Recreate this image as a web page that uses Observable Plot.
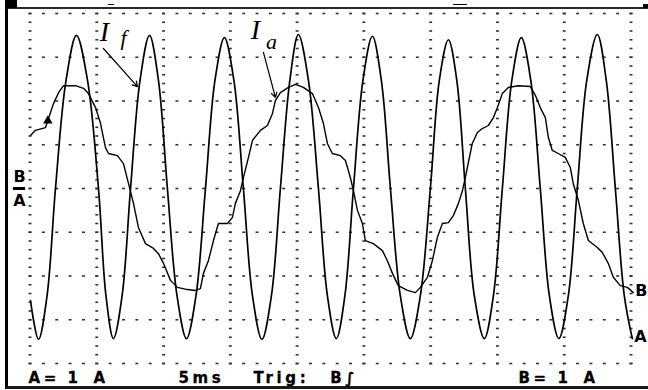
<!DOCTYPE html>
<html>
<head>
<meta charset="utf-8">
<script src="https://cdn.jsdelivr.net/npm/d3@7"></script>
<script src="https://cdn.jsdelivr.net/npm/@observablehq/plot@0.6"></script>
<style>
html,body{margin:0;padding:0;background:#fff;}
#screen{position:relative;width:648px;height:390px;overflow:hidden;background:#fff;}
#bezel{position:absolute;left:5px;top:7px;width:643px;height:382px;box-sizing:border-box;border-left:3px solid #000;border-top:2px solid #2a2a2a;border-bottom:3px solid #1a1a1a;}
.mk{position:absolute;background:#000;}
#chart{position:absolute;left:0;top:0;}
#chart svg{overflow:visible;}
#chart g[font-size="15"] text{letter-spacing:3.6px;}
</style>
</head>
<body>
<div id="screen">
  <div id="bezel"></div>
  <div class="mk" style="left:5px;top:0;width:12px;height:8px"></div>
  <div class="mk" style="left:643px;top:4px;width:5px;height:4px"></div>
  <div class="mk" style="left:108px;top:4px;width:6px;height:1px"></div>
  <div class="mk" style="left:453px;top:4px;width:14px;height:1px"></div>
  <div id="chart"></div>
</div>
<script>
// Scope grid: 5 ms per division (time), 1 A per division (current)
const timeDivisions = [0, 5, 10, 15, 20, 25, 30, 35, 40, 45];
const currentDivisions = [-4, -3, -2, -1, 0, 1, 2, 3, 4];

// Channel A : I_f  (fast wave)  [time ms, current A]
const fastTrace = [
  [0.00,-2.56],[0.60,-3.45],[1.24,-2.45],[1.87,0],[2.66,2.47],[3.44,3.50],[4.27,2.47],[5.09,0],[5.65,-2.45],
  [6.21,-3.43],[6.86,-2.45],[7.49,0],[8.20,2.47],[8.91,3.50],[9.58,2.47],[10.25,0],[10.97,-2.45],
  [11.68,-3.43],[12.39,-2.45],[13.10,0],[13.81,2.47],[14.52,3.45],[15.23,2.47],[15.94,0],[16.62,-2.45],
  [17.33,-3.45],[18.04,-2.45],[18.71,0],[19.42,2.47],[20.06,3.52],[20.81,2.47],[21.56,0],[22.23,-2.45],
  [22.90,-3.43],[23.54,-2.45],[24.18,0],[24.89,2.47],[25.60,3.48],[26.27,2.47],[26.95,0],[27.69,-2.45],
  [28.44,-3.43],[29.19,-2.45],[29.94,0],[30.61,2.47],[31.29,3.40],[31.92,2.47],[32.56,0],[33.23,-2.45],
  [33.98,-3.43],[34.66,-2.45],[35.33,0],[36.04,2.47],[36.75,3.45],[37.46,2.47],[38.17,0],[38.85,-2.45],
  [39.56,-3.43],[40.27,-2.45],[40.94,0],[41.65,2.47],[42.44,3.52],[43.11,2.47],[43.79,0],[44.46,-2.45],
  [45.06,-3.43]
];

// Channel B : I_a  (slow wave)  [time ms, current A]
const slowTrace = [
  [0.00,1.21],[0.37,1.33],[1.12,1.39],[1.35,1.60],[1.72,1.94],[2.10,2.19],[2.47,2.35],[3.37,2.35],[3.97,2.29],
  [4.34,2.17],[4.87,1.85],[5.24,1.49],[5.61,0.94],[5.84,0.80],[6.51,0.75],[6.96,0.57],[7.34,0.11],[7.71,-0.34],
  [8.08,-0.89],[8.61,-1.26],[9.21,-1.37],[9.58,-1.49],[9.96,-1.71],[10.48,-2.10],[11.00,-2.26],[11.75,-2.31],
  [12.35,-2.33],[12.72,-2.29],[12.95,-1.94],[13.32,-1.65],[13.70,-1.19],[14.07,-0.80],[14.75,-0.80],[15.12,-0.66],
  [15.34,-0.34],[15.72,-0.05],[15.94,0.25],[16.32,0.71],[16.62,1.10],[17.22,1.33],[17.74,1.44],[18.11,1.71],
  [18.34,2.01],[18.71,2.19],[19.31,2.31],[19.84,2.38],[20.43,2.31],[21.11,2.17],[21.56,1.85],[21.93,1.49],
  [22.23,1.03],[22.60,0.80],[23.20,0.75],[23.58,0.64],[23.95,0.25],[24.18,-0.05],[24.48,-0.50],[24.85,-0.80],
  [25.07,-1.19],[25.67,-1.26],[26.35,-1.42],[26.72,-1.65],[27.10,-1.94],[27.54,-2.22],[28.22,-2.33],[28.82,-2.38],
  [29.19,-2.26],[29.72,-2.03],[30.09,-1.65],[30.46,-1.12],[30.84,-0.80],[31.29,-0.78],[31.66,-0.62],[32.04,-0.34],
  [32.34,-0.05],[32.56,0.25],[32.71,0.48],[33.08,1.03],[33.46,1.28],[33.83,1.37],[34.28,1.44],[34.66,1.62],
  [34.96,1.85],[35.33,2.17],[35.78,2.31],[36.53,2.35],[37.43,2.33],[37.80,2.13],[38.17,1.85],[38.55,1.62],
  [38.77,1.17],[39.07,0.87],[39.52,0.80],[40.04,0.71],[40.42,0.48],[40.64,0.11],[41.02,-0.27],[41.39,-0.80],
  [41.77,-1.19],[42.44,-1.35],[42.81,-1.46],[43.26,-1.71],[43.64,-2.03],[44.16,-2.22],[44.69,-2.26],[45.13,-2.38]
];

// Status line of the scope
const statusLabels = [
  {t: -0.15, text: "A="},
  {t: 2.77, text: "1"},
  {t: 4.72, text: "A"},
  {t: 11.08, text: "5ms"},
  {t: 16.69, text: "Trig:"},
  {t: 22.45, text: "B∫"},
  {t: 36.53, text: "B="},
  {t: 39.45, text: "1"},
  {t: 41.40, text: "A"}
];

// Zero-level marker of both channels (left of the graticule)
const zeroMarker = [{t1: -1.28, t2: -0.37, v: 0}];
const zeroMarkerLabels = [{text: "B"}, {text: "A"}];

// Hand-written annotations
const annotationLetters = [
  {t: 5.54, v: 3.57, text: "I"},
  {t: 16.84, v: 3.63, text: "I"}
];
const annotationSubscripts = [
  {t: 6.96, v: 3.43, text: "f"},
  {t: 18.04, v: 3.34, text: "a"}
];
const annotationArrows = [
  {t1: 5.46, v1: 3.20, t2: 8.01, v2: 2.33},
  {t1: 17.44, v1: 3.11, t2: 18.34, v2: 2.08}
];
const triggerMarker = [{t: 1.30, v: 1.55}];

// dotted graticule
const graticule = [];
for (const t of timeDivisions) for (const v of d3.range(-4, 4.0001, 0.2)) graticule.push({t, v});
for (const v of currentDivisions) for (const t of d3.range(0, 45.0001, 1)) graticule.push({t, v});

const chart = Plot.plot({
  width: 648,
  height: 390,
  marginLeft: 30,
  marginRight: 17,
  marginTop: 13,
  marginBottom: 27,
  x: {domain: [0, 45], axis: null},
  y: {domain: [-4, 4], axis: null},
  style: {background: "transparent", overflow: "visible"},
  marks: [
    Plot.ruleY(graticule, {y: "v", x1: d => d.t - 0.11, x2: d => d.t + 0.11, stroke: "#333", strokeWidth: 1.6}),
    Plot.line(slowTrace, {x: d => d[0], y: d => d[1], stroke: "#000", strokeWidth: 1.4}),
    Plot.line(fastTrace, {x: d => d[0], y: d => d[1], curve: "catmull-rom", stroke: "#000", strokeWidth: 1.7}),
    Plot.dot(triggerMarker, {x: "t", y: "v", symbol: "triangle", r: 3.5, fill: "#000"}),
    Plot.text([slowTrace[slowTrace.length - 1]], {x: d => d[0], y: d => d[1], text: () => "B", textAnchor: "start", dx: 2, dy: -2, fontFamily: "DejaVu Sans", fontWeight: "bold", fontSize: 16, fill: "#000"}),
    Plot.text([fastTrace[fastTrace.length - 1]], {x: d => d[0], y: d => d[1], text: () => "A", textAnchor: "start", dx: 2, dy: -2, fontFamily: "DejaVu Sans", fontWeight: "bold", fontSize: 16, fill: "#000"}),
    Plot.ruleY(zeroMarker, {y: "v", x1: "t1", x2: "t2", stroke: "#000", strokeWidth: 3}),
    Plot.text(zeroMarkerLabels.slice(0, 1), {frameAnchor: "left", text: "text", dx: -11, dy: -12, textAnchor: "middle", fontFamily: "DejaVu Sans", fontWeight: "bold", fontSize: 16, fill: "#000"}),
    Plot.text(zeroMarkerLabels.slice(1), {frameAnchor: "left", text: "text", dx: -11, dy: 12, textAnchor: "middle", fontFamily: "DejaVu Sans", fontWeight: "bold", fontSize: 16, fill: "#000"}),
    Plot.text(statusLabels, {x: "t", text: "text", frameAnchor: "bottom", lineAnchor: "bottom", textAnchor: "start", dy: 19, fontFamily: "DejaVu Sans", fontWeight: "bold", fontSize: 15, fill: "#000", stroke: "#000", strokeWidth: 0.3}),
    Plot.text(annotationLetters, {x: "t", y: "v", text: "text", fontFamily: "Liberation Serif", fontStyle: "italic", fontSize: 28, fill: "#000"}),
    Plot.text(annotationSubscripts, {x: "t", y: "v", text: "text", fontFamily: "Liberation Serif", fontStyle: "italic", fontSize: 22, fill: "#000"}),
    Plot.arrow(annotationArrows, {x1: "t1", y1: "v1", x2: "t2", y2: "v2", stroke: "#000", strokeWidth: 1.2, headLength: 7})
  ]
});
document.getElementById("chart").appendChild(chart);
</script>
</body>
</html>
